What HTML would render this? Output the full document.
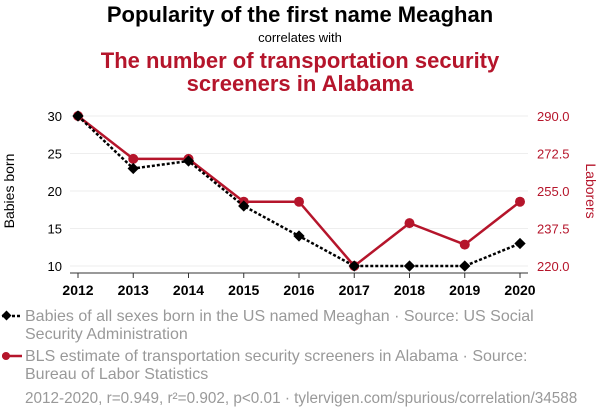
<!DOCTYPE html>
<html><head><meta charset="utf-8"><style>
body{margin:0;background:#fff;width:600px;height:414px;overflow:hidden;font-family:"Liberation Sans",sans-serif}
</style></head><body>
<svg id="c" width="600" height="414" xmlns="http://www.w3.org/2000/svg">
<text x="300" y="22" text-anchor="middle" font-size="22" font-weight="bold" fill="#000">Popularity of the first name Meaghan</text>
<text x="300" y="42" text-anchor="middle" font-size="13" fill="#000">correlates with</text>
<text x="300" y="68" text-anchor="middle" font-size="22" font-weight="bold" fill="#b5152b">The number of transportation security</text>
<text x="300" y="91" text-anchor="middle" font-size="22" font-weight="bold" fill="#b5152b">screeners in Alabama</text>
<text transform="translate(14,191) rotate(-90)" text-anchor="middle" font-size="14" fill="#000">Babies born</text>
<text transform="translate(586,191) rotate(90)" text-anchor="middle" font-size="14" fill="#b5152b">Laborers</text>
<g id="plot"></g>
<g>
<line x1="2" y1="316" x2="22" y2="316" stroke="#000" stroke-width="2.5" stroke-dasharray="3,2"/>
<rect x="3" y="312" width="7" height="7" transform="rotate(45 6.5 315.5)" fill="#000"/>
<text x="25" y="321" font-size="16" fill="#999">Babies of all sexes born in the US named Meaghan · Source: US Social</text>
<text x="25" y="339" font-size="16" fill="#999">Security Administration</text>
<line x1="2" y1="356" x2="22" y2="356" stroke="#b5152b" stroke-width="2.5"/>
<circle cx="6" cy="356" r="4" fill="#b5152b"/>
<text x="25" y="361" font-size="16" fill="#999">BLS estimate of transportation security screeners in Alabama · Source:</text>
<text x="25" y="379" font-size="16" fill="#999">Bureau of Labor Statistics</text>
<text x="25" y="403" font-size="15.3" fill="#999">2012-2020, r=0.949, r²=0.902, p&lt;0.01 · tylervigen.com/spurious/correlation/34588</text>
</g>
</svg>
<script>
const years=[2012,2013,2014,2015,2016,2017,2018,2019,2020];
const babies=[30,23,24,18,14,10,10,10,13];
const laborers=[290,270,270,250,250,220,240,230,250];
const leftTicks=[10,15,20,25,30];
const rightTicks=[220,237.5,255,272.5,290];
const NS="http://www.w3.org/2000/svg";
const g=document.getElementById('plot');
const x=i=>78+i*(520-78)/(years.length-1);
const yL=v=>266-(v-10)*(150/20);
const yR=v=>266-(v-220)*(150/70);
function mk(t,a){const e=document.createElementNS(NS,t);for(const k in a)e.setAttribute(k,a[k]);g.appendChild(e);return e;}
leftTicks.forEach(v=>{
 const l=mk('line',{x1:70,x2:528,y1:yL(v),y2:yL(v),stroke:'#eee','stroke-width':1});
 
 
 const t=mk('text',{x:62,y:yL(v)+5,'text-anchor':'end','font-size':13,fill:'#000'});t.textContent=v;
 
 
});
rightTicks.forEach(v=>{
 const t=mk('text',{x:537,y:yR(v)+5,'font-size':13,fill:'#b5152b'});t.textContent=v.toFixed(1);
 
 
});
mk('line',{x1:70,x2:528,y1:273,y2:273,stroke:'#333','stroke-width':1});
years.forEach((yr,i)=>{
 mk('line',{x1:x(i),x2:x(i),y1:273,y2:278,stroke:'#333'});
 const t=mk('text',{x:x(i),y:295,'text-anchor':'middle','font-size':14,'font-weight':'bold',fill:'#000'});t.textContent=yr;
 
 
});
const rp=mk('polyline',{points:laborers.map((v,i)=>x(i)+','+yR(v)).join(' '),fill:'none',stroke:'#b5152b','stroke-width':2.5});


laborers.forEach((v,i)=>{const c=mk('circle',{cx:x(i),cy:yR(v),r:5,fill:'#b5152b'});
 
 });
const bp=mk('polyline',{points:babies.map((v,i)=>x(i)+','+yL(v)).join(' '),fill:'none',stroke:'#000','stroke-width':2.5,'stroke-dasharray':'3,2'});


babies.forEach((v,i)=>{const r=mk('rect',{x:x(i)-4,y:yL(v)-4,width:8,height:8,fill:'#000',transform:`rotate(45 ${x(i)} ${yL(v)})`});
 
 });
</script>
</body></html>
